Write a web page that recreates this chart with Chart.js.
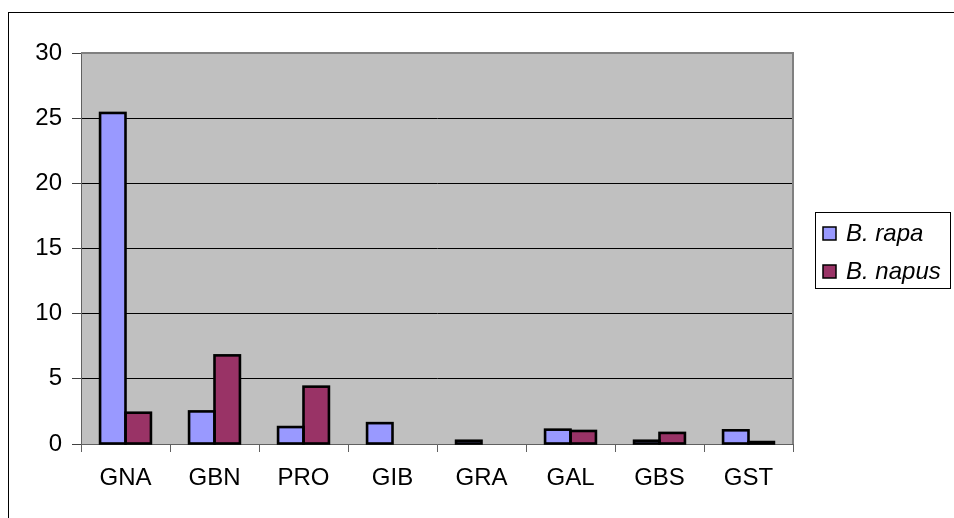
<!DOCTYPE html>
<html>
<head>
<meta charset="utf-8">
<script src="https://cdn.jsdelivr.net/npm/chart.js@4/dist/chart.umd.min.js"></script>
<style>
  html, body { margin: 0; padding: 0; background: #ffffff; }
  #wrap { position: relative; width: 954px; height: 518px; }
</style>
</head>
<body>
<div id="wrap"><canvas id="c" width="954" height="518"></canvas></div>
<script>
// Glucosinolate classes on the x axis
const categories = ['GNA', 'GBN', 'PRO', 'GIB', 'GRA', 'GAL', 'GBS', 'GST'];
// Series values per class
const rapaValues  = [25.4, 2.5, 1.3, 1.6, 0.25, 1.1, 0.25, 1.05];
const napusValues = [2.4, 6.8, 4.4, 0, 0, 1.0, 0.85, 0.15];
// Series names shown in the legend
const seriesNames = ['B. rapa', 'B. napus'];
// Value axis ticks
const yTicks = [0, 5, 10, 15, 20, 25, 30];

const FONT = '"Liberation Sans", Arial, sans-serif';
const colors = ['#9999FF', '#993366'];
const BAR_EDGE = 2.6;

// Frame around the whole chart, plot background and plot border
const framePlugin = {
  id: 'frame',
  beforeDraw(chart) {
    const ctx = chart.ctx;
    const a = chart.chartArea;
    ctx.save();
    ctx.fillStyle = '#ffffff';
    ctx.fillRect(0, 0, chart.width, chart.height);
    ctx.strokeStyle = '#000000';
    ctx.lineWidth = 1;
    ctx.strokeRect(8.5, 12.5, 1200, 1200);
    ctx.fillStyle = '#C0C0C0';
    ctx.fillRect(a.left, a.top, a.right - a.left, a.bottom - a.top);
    ctx.restore();
  },
  afterDatasetsDraw(chart) {
    const ctx = chart.ctx;
    const a = chart.chartArea;
    ctx.save();
    // black outline centred on each bar's edges
    ctx.strokeStyle = '#000000';
    ctx.lineWidth = BAR_EDGE;
    ctx.lineJoin = 'miter';
    chart.data.datasets.forEach((ds, di) => {
      const meta = chart.getDatasetMeta(di);
      meta.data.forEach((bar, i) => {
        if (!ds.data[i]) return;
        const p = bar.getProps(['x', 'y', 'base', 'width'], true);
        const left = p.x - p.width / 2;
        const top = Math.min(p.y, p.base);
        const h = Math.abs(p.base - p.y);
        ctx.strokeRect(left, top, p.width, h);
      });
    });
    // plot area border
    ctx.strokeStyle = '#808080';
    ctx.lineWidth = 2;
    ctx.beginPath();
    ctx.moveTo(a.left, a.top);
    ctx.lineTo(a.right, a.top);
    ctx.lineTo(a.right, a.bottom);
    ctx.stroke();
    ctx.restore();
  }
};

// Boxed legend at the right of the plot
const boxLegend = {
  id: 'boxLegend',
  afterDraw(chart) {
    const ctx = chart.ctx;
    ctx.save();
    ctx.fillStyle = '#ffffff';
    ctx.fillRect(815, 212, 136, 76);
    ctx.strokeStyle = '#000000';
    ctx.lineWidth = 1;
    ctx.strokeRect(815.5, 212.5, 135, 76);
    const rows = [233, 271];
    chart.data.datasets.forEach((ds, i) => {
      const cy = rows[i];
      ctx.fillStyle = ds.backgroundColor;
      ctx.fillRect(823, cy - 6, 13, 13);
      ctx.strokeStyle = '#000000';
      ctx.lineWidth = 1.5;
      ctx.strokeRect(823, cy - 6, 13, 13);
      ctx.fillStyle = '#000000';
      ctx.font = 'italic 24px ' + FONT;
      ctx.textBaseline = 'middle';
      ctx.textAlign = 'left';
      ctx.fillText(ds.label, 846, cy + 1);
    });
    ctx.restore();
  }
};

new Chart(document.getElementById('c'), {
  type: 'bar',
  data: {
    labels: categories,
    datasets: [
      { label: seriesNames[0], data: rapaValues, backgroundColor: colors[0] },
      { label: seriesNames[1], data: napusValues, backgroundColor: colors[1] }
    ].map(d => Object.assign(d, {
      borderWidth: 0,
      categoryPercentage: 2 / 3.5,
      barPercentage: 1.0
    }))
  },
  options: {
    responsive: false,
    animation: false,
    devicePixelRatio: 1,
    layout: { padding: { left: 0, right: 161, top: 53, bottom: 0 } },
    plugins: {
      legend: { display: false },
      tooltip: { enabled: false },
      title: { display: false }
    },
    scales: {
      x: {
        afterFit(s) { s.height = 74; },
        grid: {
          offset: true,
          drawOnChartArea: false,
          drawTicks: true,
          tickLength: 8,
          color: '#606060',
          lineWidth: 1
        },
        border: { display: true, color: '#606060', width: 1 },
        ticks: {
          color: '#000000',
          font: { family: FONT, size: 24 },
          padding: 12,
          maxRotation: 0
        }
      },
      y: {
        min: 0,
        max: 30,
        afterFit(s) { s.width = 81; },
        afterBuildTicks(s) { s.ticks = yTicks.map(v => ({ value: v })); },
        grid: {
          color: ctx => (ctx.tick && (ctx.tick.value === 30 || ctx.tick.value === 0)) ? '#808080' : '#000000',
          tickColor: '#404040',
          tickLength: 9,
          lineWidth: 1
        },
        border: { display: true, color: '#606060', width: 1 },
        ticks: {
          color: '#000000',
          font: { family: FONT, size: 24 },
          padding: 10
        }
      }
    }
  },
  plugins: [framePlugin, boxLegend]
});
</script>
</body>
</html>
